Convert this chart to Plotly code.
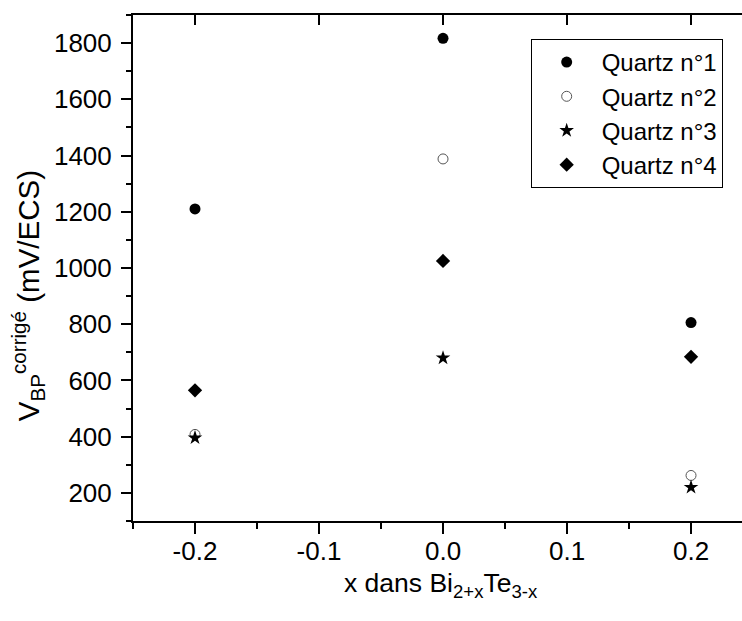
import plotly.graph_objects as go

x_vals = [-0.2, 0.0, 0.2]
quartz1 = [1210, 1817, 806]
quartz2 = [408, 1388, 262]
quartz3 = [396, 680, 220]
quartz4 = [565, 1025, 684]
series_names = ["Quartz n°1", "Quartz n°2", "Quartz n°3", "Quartz n°4"]

x_tickvals = [-0.2, -0.1, 0.0, 0.1, 0.2]
x_ticktext = ["-0.2", "-0.1", "0.0", "0.1", "0.2"]
y_tickvals = [200, 400, 600, 800, 1000, 1200, 1400, 1600, 1800]

FONT = "Liberation Sans, Arial, sans-serif"

fig = go.Figure()
fig.add_trace(go.Scatter(x=x_vals, y=quartz1, mode="markers", name=series_names[0],
                         marker=dict(symbol="circle", size=11, color="black")))
fig.add_trace(go.Scatter(x=x_vals, y=quartz2, mode="markers", name=series_names[1],
                         marker=dict(symbol="circle-open", size=10, color="#555555",
                                     line=dict(width=1, color="#555555"))))
fig.add_trace(go.Scatter(x=x_vals, y=quartz3, mode="markers", name=series_names[2],
                         marker=dict(symbol="star", size=11, color="black")))
fig.add_trace(go.Scatter(x=x_vals, y=quartz4, mode="markers", name=series_names[3],
                         marker=dict(symbol="diamond", size=11, color="black")))
# invisible trace to hold the top mirror axis
fig.add_trace(go.Scatter(x=[None], y=[None], xaxis="x2", yaxis="y",
                         showlegend=False, hoverinfo="skip"))

xr = [-0.25, 0.2411]
fig.update_layout(
    template="none",
    width=742, height=621,
    margin=dict(l=133, r=0, t=15, b=100, autoexpand=False),
    paper_bgcolor="white", plot_bgcolor="white",
    font=dict(family=FONT, size=24, color="black"),
    showlegend=True,
    xaxis=dict(range=xr, showgrid=False, zeroline=False, showline=True,
               automargin=False,
               linecolor="black", linewidth=2,
               tickmode="array", tickvals=x_tickvals, ticktext=x_ticktext,
               ticks="outside", ticklen=11, tickwidth=1.5, tickcolor="black",
               ticklabelstandoff=-5,
               minor=dict(tickmode="linear", tick0=0, dtick=0.05, ticks="outside",
                          ticklen=6, tickwidth=1.5, tickcolor="black", showgrid=False),
               tickfont=dict(size=26)),
    xaxis2=dict(range=xr, overlaying="x", side="top", showgrid=False, zeroline=False,
                automargin=False,
                showline=True, linecolor="black", linewidth=2,
                tickmode="array", tickvals=x_tickvals, showticklabels=False,
                ticks="inside", ticklen=10, tickwidth=1.5, tickcolor="black"),
    yaxis=dict(range=[100, 1900], showgrid=False, zeroline=False, showline=True,
               automargin=False,
               linecolor="black", linewidth=2,
               tickmode="array", tickvals=y_tickvals,
               ticks="outside", ticklen=10, tickwidth=1.5, tickcolor="black",
               ticklabelstandoff=4,
               minor=dict(tickmode="linear", tick0=0, dtick=100, ticks="outside",
                          ticklen=5, tickwidth=1.5, tickcolor="black", showgrid=False),
               tickfont=dict(size=26)),
    legend=dict(x=0.653, y=(521 - 39) / 506, xanchor="left", yanchor="top",
                bgcolor="white", bordercolor="black", borderwidth=1,
                font=dict(size=24, family=FONT), itemwidth=60),
    annotations=[
        dict(text="V<sub>BP</sub><sup>corrigé</sup> (mV/ECS)", textangle=-90,
             xref="paper", yref="paper", x=-0.172, y=(521 - 296) / 506,
             xanchor="center", yanchor="middle", showarrow=False,
             font=dict(size=29.5, family=FONT)),
        dict(text="x dans Bi<sub>2+x</sub>Te<sub>3-x</sub>",
             xref="x", yref="paper", x=-0.002, y=(521 - 585) / 506,
             xanchor="center", yanchor="middle", showarrow=False,
             font=dict(size=26.5, family=FONT)),
    ],
)

fig.write_html("out.html", post_script="document.body.style.margin='0px';",
               config={"displayModeBar": False})
